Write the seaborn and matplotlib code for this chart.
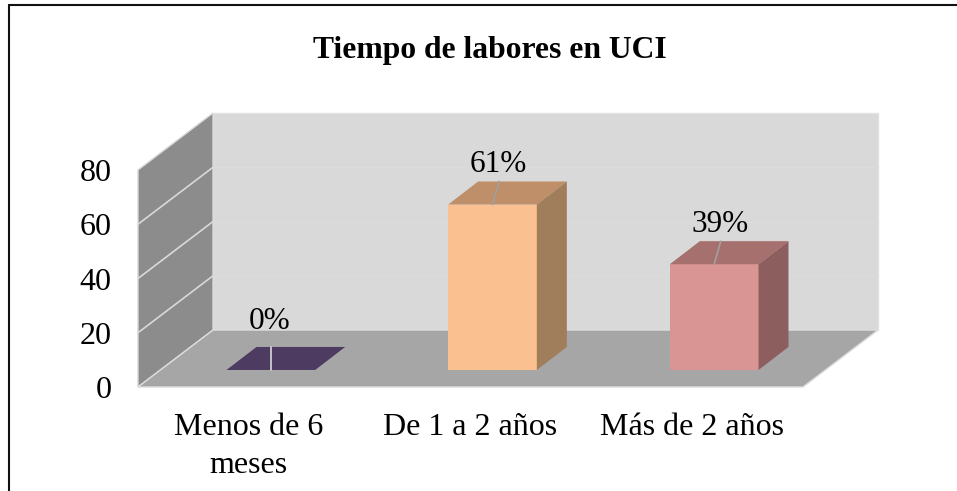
import matplotlib
matplotlib.use('Agg')
import matplotlib.pyplot as plt
from matplotlib.lines import Line2D
import seaborn as sns

categories = ['Menos de 6\nmeses', 'De 1 a 2 años', 'Más de 2 años']
values = [0, 61, 39]
labels = ['0%', '61%', '39%']
yticks = [0, 20, 40, 60, 80]

front_colors = ['#4d3b62', '#fac090', '#d99594']
top_colors = ['#4d3b62', '#bf8f69', '#a6706e']
side_colors = ['#4d3b62', '#a07d5b', '#8c5e5e']
leader_colors = ['#d9d9d9', '#a0a0a0', '#a0a0a0']

W, H = 957, 491

sns.set_theme(style='white')
plt.rcParams['font.family'] = ['Liberation Serif', 'DejaVu Serif']

fig = plt.figure(figsize=(W / 100, H / 100), dpi=100)


def axes_px(left, right, top, bottom):
    return [left / W, 1 - bottom / H, (right - left) / W, (bottom - top) / H]


# frame: walls, floor and the real axis ticks
frame = fig.add_axes(axes_px(138, 803, 170, 387), zorder=0)
frame.patch.set_visible(False)
frame.set_xlim(-0.5, 2.5)
frame.set_ylim(0, 80)
sns.despine(ax=frame, left=True, bottom=True)
frame.set_xticks(range(len(categories)))
frame.set_xticklabels(categories, fontsize=23, linespacing=1.41)
frame.set_yticks(yticks)
frame.set_yticklabels(yticks, fontsize=23)
frame.tick_params(axis='x', length=0, pad=19, colors='black')
frame.tick_params(axis='y', length=0, pad=19, colors='black')

x0, x1 = frame.get_xlim()
y0, y1 = frame.get_ylim()
dx = 75 / (665 / 3)
dy = 21

frame.fill([x0 + dx, x1 + dx, x1 + dx, x0 + dx], [y0 + dy, y0 + dy, y1 + dy, y1 + dy],
           color='#d9d9d9', ec='#e2e2e2', lw=1, clip_on=False)
frame.fill([x0, x0 + dx, x0 + dx, x0], [y0, y0 + dy, y1 + dy, y1],
           color='#8c8c8c', ec='#d9d9d9', lw=1, clip_on=False)
frame.fill([x0, x1, x1 + dx, x0 + dx], [y0, y0, y0 + dy, y0 + dy],
           color='#a6a6a6', ec='#dddddd', lw=1, clip_on=False)
for t in yticks[1:-1]:
    frame.plot([x0, x0 + dx], [t, t + dy], color='#d9d9d9', lw=1.2, clip_on=False)
    frame.plot([x0 + dx, x1 + dx], [t + dy, t + dy], color='#dcdcdc', lw=1, clip_on=False)

# bars sit further back on the floor, same scale as the frame
ax = fig.add_axes(axes_px(160, 825, 153, 370), zorder=1)
ax.patch.set_visible(False)
sns.barplot(x=categories, y=values, hue=categories, palette=front_colors, width=0.4,
            saturation=1, legend=False, linewidth=0, ax=ax)
ax.set_xlim(-0.5, 2.5)
ax.set_ylim(0, 80)
ax.axis('off')

bar_dx = 30 / (665 / 3)
bar_dy = 8.5
for i, bar in enumerate(ax.patches[:len(values)]):
    left = bar.get_x()
    right = left + bar.get_width()
    h = bar.get_height()
    mid = left + bar.get_width() / 2
    ax.fill([left, right, right + bar_dx, left + bar_dx], [h, h, h + bar_dy, h + bar_dy],
            color=top_colors[i], lw=0, clip_on=False)
    if h > 0:
        ax.fill([right, right + bar_dx, right + bar_dx, right], [0, bar_dy, h + bar_dy, h],
                color=side_colors[i], lw=0, clip_on=False)
    lean = 0.03 if h > 0 else 0
    ax.plot([mid, mid + lean], [h, h + bar_dy], color=leader_colors[i], lw=1.2, clip_on=False)
    gap = 6.2 if h > 0 else 9.3
    ax.text(mid + lean - 0.005, h + bar_dy + gap, labels[i], fontsize=22.5, color='black',
            ha='center', va='center', clip_on=False)

fig.text(490 / W, 1 - 50 / H, 'Tiempo de labores en UCI', fontsize=22.8, fontweight='bold',
         color='black', ha='center', va='center')

# page frame around the pasted chart
fig.add_artist(Line2D([9 / W, 9 / W], [0, 1 - 5 / H], color='#111111', lw=1.5))
fig.add_artist(Line2D([9 / W, 1], [1 - 5 / H, 1 - 5 / H], color='#111111', lw=1.5))

fig.savefig('out.png', dpi=100)
